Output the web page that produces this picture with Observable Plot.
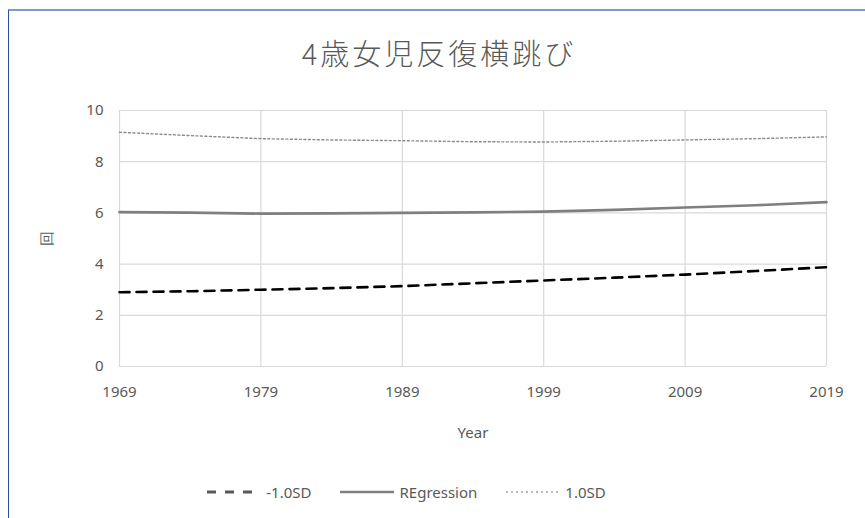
<!DOCTYPE html>
<html>
<head>
<meta charset="utf-8">
<script src="https://cdn.jsdelivr.net/npm/d3@7"></script>
<script src="https://cdn.jsdelivr.net/npm/@observablehq/plot@0.6"></script>
<style>
  html, body { margin: 0; padding: 0; background: #fff; }
  #chart {
    position: relative; width: 865px; height: 518px; overflow: hidden;
    font-family: "Noto Sans", "Noto Sans CJK JP", sans-serif; color: #595959;
  }
  #frame {
    position: absolute; left: 8px; top: 9px; width: 900px; height: 600px;
    border-top: 2px solid #7d9bd0; border-left: 1.5px solid #2b4fa8; box-sizing: border-box;
  }
  #title {
    position: absolute; left: 0; top: 31px; width: 878px; text-align: center;
    font-family: "Noto Sans CJK JP", sans-serif; font-size: 29px; font-weight: 300;
    letter-spacing: 3px; color: #595959;
  }
  #plot { position: absolute; left: 0; top: 90px; }
  #legend {
    position: absolute; left: 0; top: 482px; width: 812px; display: flex; justify-content: center;
    gap: 28px; font-size: 15px; color: #595959; align-items: center;
  }
  #legend .item { display: flex; align-items: center; gap: 4px; }
</style>
</head>
<body>
<div id="chart">
  <div id="frame"></div>
  <div id="title">4歳女児反復横跳び</div>
  <div id="plot"></div>
  <div id="legend"></div>
</div>
<script>
// Survey years and the three reference curves (times per test)
const years = [1969, 1974, 1979, 1984, 1989, 1994, 1999, 2004, 2009, 2014, 2019];
const minus1SD = [2.90, 2.94, 3.00, 3.06, 3.14, 3.25, 3.36, 3.47, 3.59, 3.73, 3.88];
const regression = [6.03, 6.01, 5.97, 5.98, 6.00, 6.02, 6.05, 6.12, 6.21, 6.30, 6.42];
const plus1SD = [9.15, 9.02, 8.90, 8.85, 8.82, 8.78, 8.77, 8.80, 8.85, 8.90, 8.97];

const xTicks = [1969, 1979, 1989, 1999, 2009, 2019];
const yTicks = [0, 2, 4, 6, 8, 10];

const seriesNames = ["-1.0SD", "REgression", "1.0SD"];

const rows = (vals) => years.map((year, i) => ({year, value: vals[i]}));

const styles = {
  "-1.0SD": {stroke: "#000000", strokeWidth: 2.6, strokeDasharray: "10,7"},
  "REgression": {stroke: "#7f7f7f", strokeWidth: 2.6},
  "1.0SD": {stroke: "#8c8c8c", strokeWidth: 1.4, strokeDasharray: "2,2.5"}
};

const chart = Plot.plot({
  width: 865,
  height: 370,
  marginLeft: 119,
  marginRight: 39,
  marginTop: 20,
  marginBottom: 94,
  style: {fontFamily: "'Noto Sans', sans-serif", fontSize: "14px", color: "#595959", background: "transparent"},
  x: {domain: [1969, 2019]},
  y: {domain: [0, 10]},
  marks: [
    Plot.gridX(xTicks, {stroke: "#d9d9d9", strokeOpacity: 1, strokeWidth: 1.2}),
    Plot.gridY(yTicks, {stroke: "#d9d9d9", strokeOpacity: 1, strokeWidth: 1.2}),
    Plot.axisX({ticks: xTicks, tickSize: 0, tickPadding: 20, tickFormat: d => String(d),
      label: "Year", labelAnchor: "center", labelArrow: "none", labelOffset: 71, fontSize: 15}),
    Plot.axisY({ticks: yTicks, tickSize: 0, tickPadding: 16,
      label: "回", labelAnchor: "center", labelArrow: "none", labelOffset: 78, fontSize: 15}),
    Plot.line(rows(minus1SD), {x: "year", y: "value", ...styles["-1.0SD"]}),
    Plot.line(rows(regression), {x: "year", y: "value", ...styles["REgression"]}),
    Plot.line(rows(plus1SD), {x: "year", y: "value", ...styles["1.0SD"]})
  ]
});
document.getElementById("plot").appendChild(chart);

// Legend built from the same series styles
const legend = d3.select("#legend");
const legendStyles = {
  "-1.0SD": {stroke: "#595959", strokeWidth: 3, dash: "9,9"},
  "REgression": {stroke: "#808080", strokeWidth: 2.6, dash: null},
  "1.0SD": {stroke: "#a6a6a6", strokeWidth: 1.4, dash: "2,3"}
};
seriesNames.forEach(name => {
  const item = legend.append("div").attr("class", "item");
  const s = item.append("svg").attr("width", 56).attr("height", 12);
  const st = legendStyles[name];
  s.append("line").attr("x1", 1).attr("x2", 55).attr("y1", 6).attr("y2", 6)
    .attr("stroke", st.stroke).attr("stroke-width", st.strokeWidth)
    .attr("stroke-dasharray", st.dash);
  item.append("span").text(name);
});
</script>
</body>
</html>
